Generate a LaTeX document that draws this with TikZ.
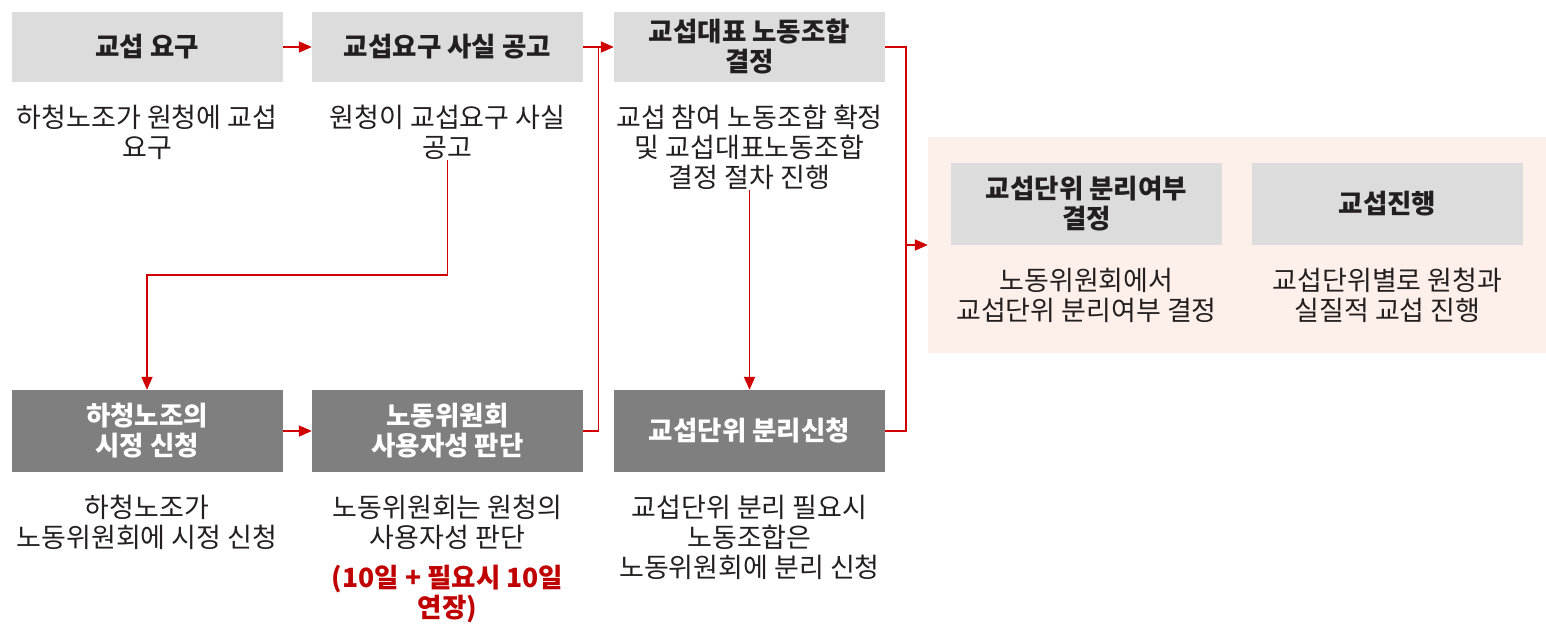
\documentclass[tikz,border=0pt]{standalone}
\usepackage{fontspec}
\setmainfont{Noto Sans CJK KR}
\usetikzlibrary{arrows.meta,positioning,calc}
\definecolor{LightBox}{HTML}{DCDCDC}
\definecolor{DarkBox}{HTML}{7F7F7F}
\definecolor{Panel}{HTML}{FDF0EA}
\definecolor{Flow}{HTML}{D00000}
\definecolor{Note}{HTML}{C00000}
\definecolor{Ink}{HTML}{231F20}
\tikzset{
 box/.style={minimum width=271pt, align=center, inner sep=4pt, font=\fontsize{26.5}{30}\selectfont\bfseries},
 lightbox/.style={box, fill=LightBox, text=Ink, minimum height=70pt},
 darkbox/.style={box, fill=DarkBox, text=white, minimum height=82pt},
 desc/.style={align=center, inner sep=0pt, text=Ink, font=\fontsize{27}{30}\selectfont},
 note/.style={desc, text=Note, font=\fontsize{26.5}{30}\selectfont\bfseries},
 flow/.style={-{Triangle[length=13pt,width=11pt]}, line width=1.6pt, draw=Flow},
 link/.style={line width=1.6pt, draw=Flow}
}
\begin{document}
\begin{tikzpicture}[x=1pt,y=-1pt,node distance=23pt]
\useasboundingbox (0,0) rectangle (1546,639);
\node[fill=Panel, minimum width=618pt, minimum height=216pt, inner sep=0pt] (panel) at (1237,245) {};
% top row
\node[lightbox] (t1) at (147,47) {교섭 요구};
\node[lightbox] (t2) at (447.5,47) {교섭요구 사실 공고};
\node[lightbox] (t3) at (749.5,47) {교섭대표 노동조합\\결정};
\node[desc,below=of t1] (d1) {하청노조가 원청에 교섭\\요구};
\node[desc,below=of t2] (d2) {원청이 교섭요구 사실\\공고};
\node[desc,below=of t3] (d3) {교섭 참여 노동조합 확정\\및 교섭대표노동조합\\결정 절차 진행};
% bottom row
\node[darkbox] (b1) at (147,431) {하청노조의\\시정 신청};
\node[darkbox] (b2) at (447.5,431) {노동위원회\\사용자성 판단};
\node[darkbox] (b3) at (749.5,431) {교섭단위 분리신청};
\node[desc,below=of b1] (d4) {하청노조가\\노동위원회에 시정 신청};
\node[desc,below=of b2] (d5) {노동위원회는 원청의\\사용자성 판단};
\node[note,below=15pt of d5] (n5) {(10일 + 필요시 10일\\연장)};
\node[desc,below=of b3] (d6) {교섭단위 분리 필요시\\노동조합은\\노동위원회에 분리 신청};
% panel
\node[lightbox, minimum height=82pt] (p1) at (1086.5,204) {교섭단위 분리여부\\결정};
\node[lightbox, minimum height=82pt] (p2) at (1387.5,204) {교섭진행};
\node[desc,below=of p1] (d7) {노동위원회에서\\교섭단위 분리여부 결정};
\node[desc,below=of p2] (d8) {교섭단위별로 원청과\\실질적 교섭 진행};
% connectors
\draw[flow] (t1) -- (t2);
\draw[flow] (t2) -- (t3);
\coordinate (j1) at ($(t2.east)!0.5!(t3.west)$);
\draw[link] (b2.east) -| (j1);
\draw[flow] (d2.south) |- ($(b1.north)+(0,-115)$) -- (b1.north);
\draw[flow] (b1) -- (b2);
\draw[flow] (d3) -- (b3);
\draw[link] (t3.east) -- ++(21,0) coordinate (j2) |- (b3.east);
\draw[flow] (j2 |- panel.west) -- (panel.west);
\end{tikzpicture}
\end{document}
